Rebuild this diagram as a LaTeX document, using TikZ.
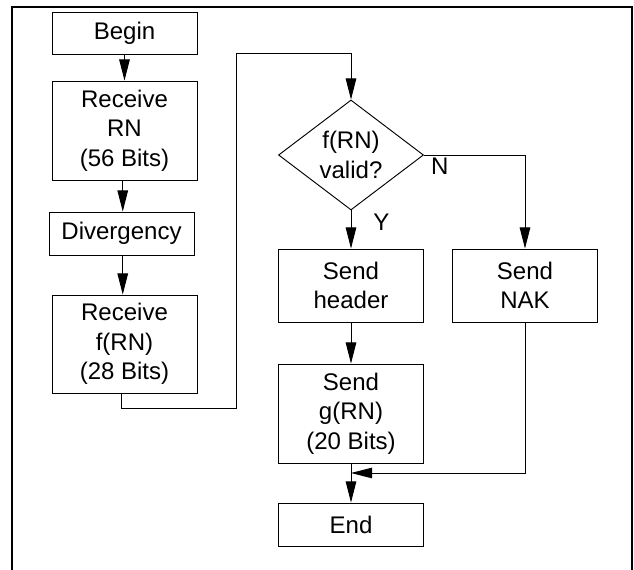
\documentclass[tikz,border=0pt]{standalone}
\usepackage{fontspec}
\setmainfont{Liberation Sans}
\usepackage{tikz}
\usetikzlibrary{positioning, shapes.geometric, arrows.meta}
\tikzstyle{every node}=[font=\fontsize{20.5}{25}\selectfont]
\tikzstyle{block}=[draw, line width=0.8pt, rectangle, align=center, minimum width=4.35cm]
\tikzstyle{decision}=[draw, line width=0.8pt, diamond, aspect=1.32, inner sep=0pt, align=center, minimum width=4.35cm, minimum height=3.3cm]
\tikzstyle{flow}=[line width=0.8pt, -{Triangle[length=18pt,width=9pt]}]

\begin{document}
\begin{tikzpicture}[x=0.03cm, y=-0.03cm]
			\useasboundingbox (0,0) rectangle (634,570);
			\draw[line width=2.5pt] (12,570) -- (12,7) -- (632,7) -- (632,570);
			\node[block, minimum height=1.26cm] (1) at (124.5, 33) {Begin};
			\node[block, minimum height=2.97cm] (2) at (124.5, 130.5) {Receive\\RN\\(56 Bits)};
			\node[block, minimum height=1.29cm] (3) at (121.5, 233.5) {Divergency};
			\node[block, minimum height=2.94cm] (4) at (124.5, 344) {Receive\\f(RN)\\(28 Bits)};
			\node[decision] (5) at (351, 155) {f(RN)\\valid?};
			\node[below right=2pt and 6pt of 5.east, inner sep=0pt] (12) {N};
			\node[below right=2.5pt and 19pt of 5.south, inner sep=0pt] (13) {Y};
			\node[block, minimum height=2.19cm] (6) at (351, 285.5) {Send\\header};
			\node[block, minimum height=2.19cm] (7) at (525, 285.5) {Send\\NAK};
			\node[block, minimum height=2.97cm] (8) at (351, 413.5) {Send\\g(RN)\\(20 Bits)};
			\node[block, minimum height=1.29cm] (9) at (351, 524.5) {End};
			\coordinate (10) at (236, 53);
			\coordinate (11) at (351, 473);
			\draw[flow] (1) -- (2);
			\draw[flow] ([xshift=-1.5pt]2.south) -- ([xshift=-1.5pt]2.south |- 3.north);
			\draw[flow] ([xshift=-1.5pt]2.south |- 3.south) -- ([xshift=-1.5pt]4.north);
			\draw[flow] ([xshift=-3pt]4.south) -- ++(0,15) -| (10) -| (5.north);
			\draw[flow] (5) -- (6);
			\draw[flow] (5.east) -| (7.north);
			\draw[flow] (6) -- (8);
			\draw[flow] (8) -- (9);
			\draw[flow] (7.south) |- (11);
		\end{tikzpicture}
\end{document}
